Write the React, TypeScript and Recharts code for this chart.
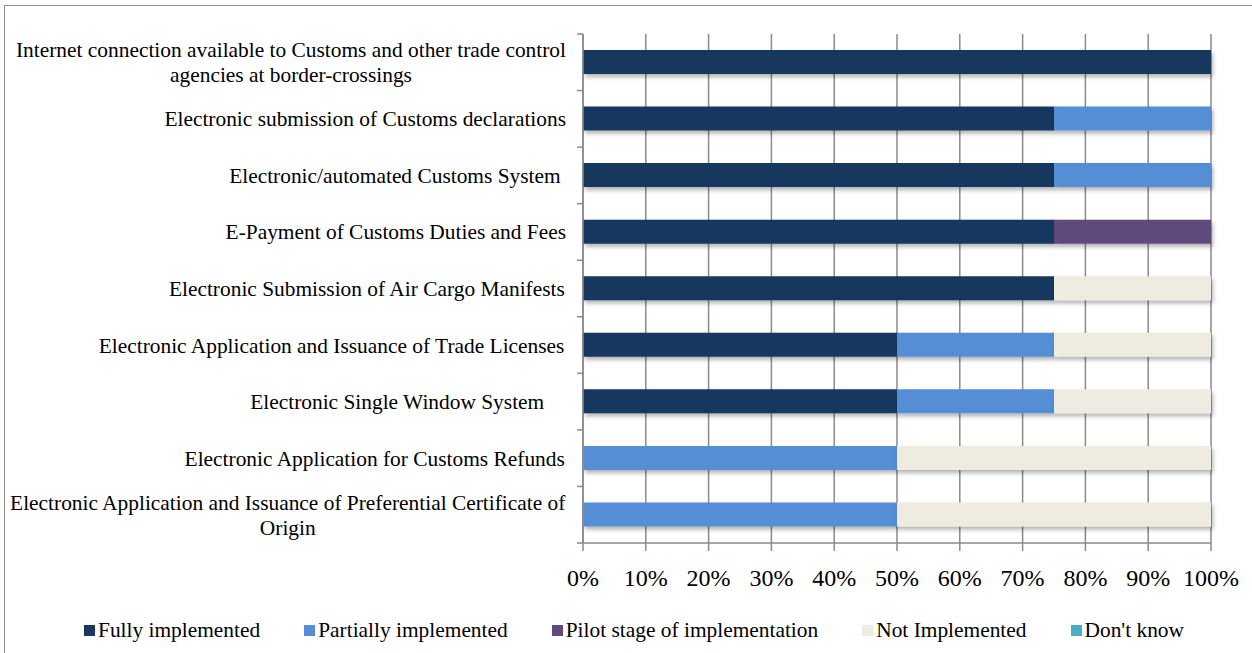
import { Bar, BarChart, CartesianGrid, Rectangle, XAxis, YAxis } from 'recharts'

const categories = [
  'Internet connection available to Customs and other trade control agencies at border-crossings',
  'Electronic submission of Customs declarations',
  'Electronic/automated Customs System ',
  'E-Payment of Customs Duties and Fees',
  'Electronic Submission of Air Cargo Manifests',
  'Electronic Application and Issuance of Trade Licenses',
  'Electronic Single Window System    ',
  'Electronic Application for Customs Refunds',
  'Electronic Application and Issuance of Preferential Certificate of Origin',
]

const fullyImplemented = [100, 75, 75, 75, 75, 50, 50, 0, 0]
const partiallyImplemented = [0, 25, 25, 0, 0, 25, 25, 50, 50]
const pilotStage = [0, 0, 0, 25, 0, 0, 0, 0, 0]
const notImplemented = [0, 0, 0, 0, 25, 25, 25, 50, 50]
const dontKnow = [0, 0, 0, 0, 0, 0, 0, 0, 0]

const xTicks = [0, 10, 20, 30, 40, 50, 60, 70, 80, 90, 100]

const series = [
  { key: 'fully', name: 'Fully implemented', color: '#17375E', values: fullyImplemented },
  { key: 'partially', name: 'Partially implemented', color: '#558ED5', values: partiallyImplemented },
  { key: 'pilot', name: 'Pilot stage of implementation', color: '#604A7B', values: pilotStage },
  { key: 'notImpl', name: 'Not Implemented', color: '#EEECE1', values: notImplemented },
  { key: 'dontKnow', name: "Don't know", color: '#4BACC6', values: dontKnow },
]

const data = categories.map((name, i) => {
  const row: Record<string, any> = { name }
  series.forEach((s) => (row[s.key] = s.values[i]))
  return row
})

const FONT = '"Liberation Serif", "Times New Roman", serif'
const LABEL_SIZE = 21.4
const GRID = '#8a8a8a'
const BAND = (543 - 34) / categories.length

let ctx: CanvasRenderingContext2D | null = null
const measure = (text: string) => {
  if (!ctx) ctx = document.createElement('canvas').getContext('2d')
  if (!ctx) return text.length * LABEL_SIZE * 0.45
  ctx.font = `${LABEL_SIZE}px "Liberation Serif"`
  return ctx.measureText(text).width
}

const wrap = (text: string, maxWidth: number) => {
  if (measure(text) <= maxWidth) return [text]
  const words = text.split(' ')
  const lines: string[] = []
  let cur = ''
  words.forEach((w) => {
    const next = cur ? cur + ' ' + w : w
    if (cur && measure(next) > maxWidth) {
      lines.push(cur)
      cur = w
    } else cur = next
  })
  if (cur) lines.push(cur)
  return lines
}

const CategoryTick = (props: any) => {
  const { x, y, payload, index } = props
  const lines = wrap(payload.value, 565)
  const axisX = x + 17
  const lineGap = 25
  const startY = y - ((lines.length - 1) * lineGap) / 2
  let labels
  if (lines.length === 1) {
    const w = measure(lines[0])
    labels = (
      <text x={x - w} y={y} dy="0.35em" textAnchor="start" fontSize={LABEL_SIZE} fontFamily={FONT} fill="#000" style={{ whiteSpace: 'pre' }}>
        {lines[0]}
      </text>
    )
  } else {
    const maxW = Math.max(...lines.map(measure))
    const cx = x - maxW / 2
    labels = lines.map((l, i) => (
      <text key={i} x={cx} y={startY + i * lineGap} dy="0.35em" textAnchor="middle" fontSize={LABEL_SIZE} fontFamily={FONT} fill="#000">
        {l}
      </text>
    ))
  }
  return (
    <g>
      <line x1={axisX - 6} x2={axisX} y1={y - BAND / 2} y2={y - BAND / 2} stroke={GRID} strokeWidth={1.5} />
      {index === categories.length - 1 && (
        <line x1={axisX - 6} x2={axisX} y1={y + BAND / 2} y2={y + BAND / 2} stroke={GRID} strokeWidth={1.5} />
      )}
      {labels}
    </g>
  )
}

const ShadowBar = (props: any) => <Rectangle {...props} filter="url(#barShadow)" />

export default function App() {
  return (
    <div style={{ position: 'absolute', left: 0, top: 0, width: 1252, height: 653, background: '#fff', overflow: 'hidden' }}>
      <svg width={0} height={0} style={{ position: 'absolute' }}>
        <defs>
          <filter id="barShadow" x="-5%" y="-30%" width="115%" height="180%">
            <feDropShadow dx={2} dy={3} stdDeviation={2} floodColor="#000" floodOpacity={0.3} />
          </filter>
        </defs>
      </svg>
      <div
        style={{
          position: 'absolute',
          left: 4,
          top: 5,
          width: 1270,
          height: 660,
          border: '1.5px solid #8c8c8c',
          boxSizing: 'border-box',
        }}
      />
      <div style={{ position: 'absolute', left: 0, top: 0 }}>
        <BarChart
          width={1252}
          height={653}
          data={data}
          layout="vertical"
          margin={{ top: 34, right: 41, bottom: 0, left: 0 }}
          barSize={24}
        >
          <CartesianGrid horizontal={false} stroke={GRID} strokeWidth={1.5} />
          <XAxis
            type="number"
            domain={[0, 100]}
            ticks={xTicks}
            tickFormatter={(v) => `${v}%`}
            height={110}
            axisLine={{ stroke: GRID, strokeWidth: 1.5 }}
            tickLine={{ stroke: GRID, strokeWidth: 1.5 }}
            tickSize={8}
            tickMargin={18}
            tick={{ fontSize: 24, fontFamily: FONT, fill: '#000' }}
            interval={0}
          />
          <YAxis
            type="category"
            dataKey="name"
            width={583}
            axisLine={{ stroke: GRID, strokeWidth: 1.5 }}
            tickLine={false}
            tickSize={0}
            tickMargin={17}
            tick={<CategoryTick />}
            interval={0}
          />
          {series.map((s) => (
            <Bar
              key={s.key}
              dataKey={s.key}
              name={s.name}
              stackId="a"
              fill={s.color}
              shape={ShadowBar}
              isAnimationActive={false}
            />
          ))}
        </BarChart>
      </div>
      <div
        style={{
          position: 'absolute',
          left: 84,
          top: 618,
          display: 'flex',
          gap: 44,
          fontFamily: FONT,
          fontSize: 21.4,
          color: '#000',
          whiteSpace: 'nowrap',
        }}
      >
        {series.map((s) => (
          <div key={s.key} style={{ display: 'flex', alignItems: 'center' }}>
            <span style={{ display: 'inline-block', width: 11, height: 11, background: s.color, marginRight: 3 }} />
            <span>{s.name}</span>
          </div>
        ))}
      </div>
    </div>
  )
}
